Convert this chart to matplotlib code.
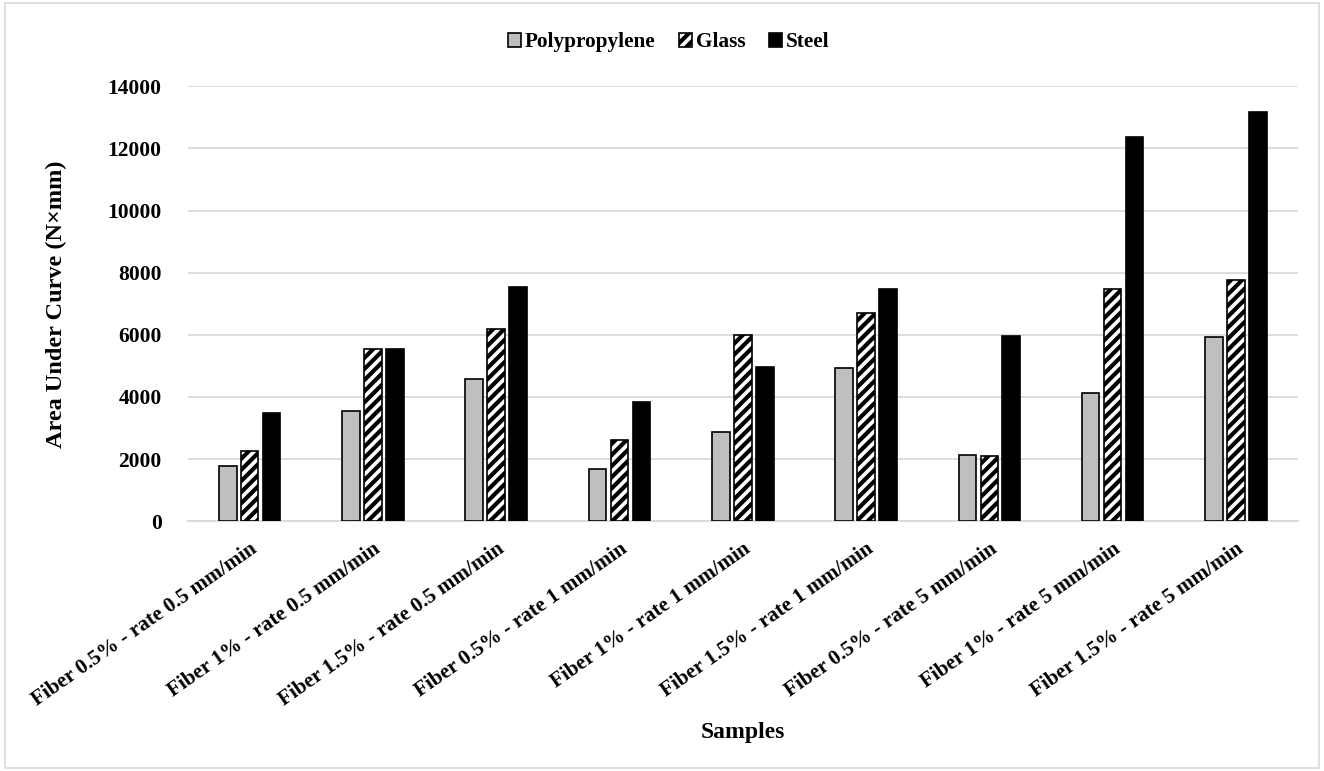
import matplotlib.pyplot as plt
from matplotlib.patches import Rectangle
import numpy as np

plt.rcParams["font.family"] = ["Liberation Serif", "DejaVu Serif"]
plt.rcParams["font.weight"] = "bold"
plt.rcParams["hatch.linewidth"] = 3.0

samples = ['Fiber 0.5% - rate 0.5 mm/min', 'Fiber 1% - rate 0.5 mm/min',
           'Fiber 1.5% - rate 0.5 mm/min', 'Fiber 0.5% - rate 1 mm/min',
           'Fiber 1% - rate 1 mm/min', 'Fiber 1.5% - rate 1 mm/min',
           'Fiber 0.5% - rate 5 mm/min', 'Fiber 1% - rate 5 mm/min',
           'Fiber 1.5% - rate 5 mm/min']
polypropylene = [1780, 3560, 4570, 1670, 2860, 4920, 2130, 4120, 5920]
glass = [2250, 5560, 6180, 2600, 5980, 6700, 2090, 7460, 7760]
steel = [3480, 5560, 7540, 3830, 4950, 7490, 5950, 12380, 13160]

fig = plt.figure(figsize=(13.24, 7.71), dpi=100)
ax = fig.add_axes([0.142, 0.324, 0.838, 0.564])
fig.patches.append(Rectangle((0.004, 0.004), 0.992, 0.992, transform=fig.transFigure,
                             fill=False, edgecolor='#d9d9d9', lw=1.2))

x = np.arange(len(samples))
w = 0.143
off = 0.178
b1 = ax.bar(x - off, polypropylene, w, color='#bfbfbf', edgecolor='black', lw=1.2, zorder=3,
            label='Polypropylene')
b2 = ax.bar(x, glass, w, color='white', edgecolor='black', lw=1.2, hatch='///', zorder=3,
            label='Glass')
b3 = ax.bar(x + off, steel, w, color='black', edgecolor='black', lw=1.2, zorder=3,
            label='Steel')

ax.set_xlim(-0.5, len(samples) - 0.5)
ax.set_ylim(0, 14000)
ax.set_yticks(np.arange(0, 14001, 2000))
ax.yaxis.grid(True, color='#d9d9d9', lw=1.3, zorder=0)
for s in ['top', 'right', 'left']:
    ax.spines[s].set_visible(False)
ax.spines['bottom'].set_color('#d9d9d9')
ax.spines['bottom'].set_linewidth(1.3)
ax.tick_params(axis='both', length=0)
ax.tick_params(axis='y', pad=19, labelsize=15.5)
ax.set_xticks(x)
ax.set_xticklabels(samples, rotation=35, ha='right', rotation_mode='anchor', fontsize=15.3)
ax.tick_params(axis='x', pad=13)

ax.set_ylabel('Area Under Curve (N×mm)', fontsize=17.5, fontweight='bold', labelpad=29)
fig.text(0.561, 0.05, 'Samples', ha='center', va='center', fontsize=17, fontweight='bold')

fig.legend([b1, b2, b3], ['Polypropylene', 'Glass', 'Steel'], ncol=3, loc='center',
           bbox_to_anchor=(0.505, 0.945), frameon=False, fontsize=15.3,
           handlelength=0.6, handleheight=0.6, handletextpad=0.2, columnspacing=1.1)

plt.savefig('out.png', dpi=100)
